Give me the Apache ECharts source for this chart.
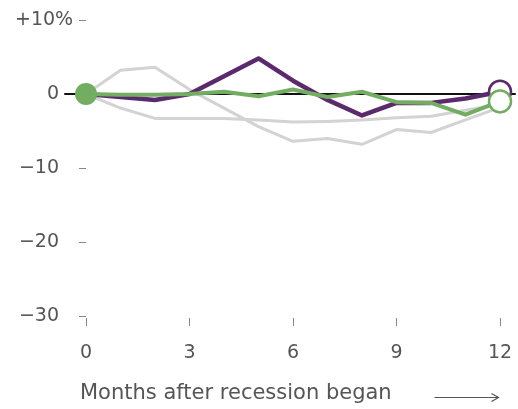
<!DOCTYPE html>
<html>
<head>
<meta charset="utf-8">
<style>
  html, body { margin: 0; padding: 0; background: #fff; }
  #chart { width: 518px; height: 409px; }
</style>
<script src="https://cdn.jsdelivr.net/npm/echarts@6/dist/echarts.min.js"></script>
</head>
<body>
<div id="chart"></div>
<script>
// months after the recession began
const months = [0, 1, 2, 3, 4, 5, 6, 7, 8, 9, 10, 11, 12];
const xTicks = [0, 3, 6, 9, 12];
const yTicks = [10, 0, -10, -20, -30];

// percent change since start
const grayA  = [0, 3.2, 3.6, 0.6, -1.9, -4.4, -6.4, -6.0, -6.8, -4.8, -5.2, -3.5, -1.8];
const grayB  = [0, -1.9, -3.3, -3.3, -3.3, -3.5, -3.8, -3.7, -3.5, -3.2, -3.0, -2.2, -1.4];
const purple = [0, -0.4, -0.8, 0, 2.4, 4.8, 1.8, -0.8, -2.9, -1.2, -1.2, -0.6, 0.3];
const green  = [0, -0.1, -0.1, 0, 0.3, -0.3, 0.6, -0.4, 0.3, -1.1, -1.2, -2.8, -1.0];

const FONT = 'DejaVu Sans';
const TXT = '#555';
const Y_MIN = -30, Y_MAX = 10;

const chart = echarts.init(document.getElementById('chart'));

const pairs = (vals) => months.map((m, i) => [m, vals[i]]);

// start / end dots
const withEnds = (vals, color, startDot) => pairs(vals).map((p, i) => {
  if (i === 0 && startDot) {
    return { value: p, symbol: 'circle', symbolSize: 22, itemStyle: { color: color, borderWidth: 0 } };
  }
  if (i === vals.length - 1) {
    return { value: p, symbol: 'circle', symbolSize: 22, itemStyle: { color: '#fff', borderColor: color, borderWidth: 2.5 } };
  }
  return { value: p, symbol: 'none' };
});

const lineSeries = (name, data, color, width, z) => ({
  name: name,
  type: 'line',
  data: data,
  z: z,
  symbol: 'none',
  lineStyle: { color: color, width: width, join: 'round', cap: 'round' },
  itemStyle: { color: color },
  emphasis: { disabled: true },
  silent: true
});

const option = {
  animation: false,
  grid: [
    { left: 86, right: 18, top: 20, bottom: 93 },
    // wider grid only for the zero line
    { left: 65, right: 3, top: 20, bottom: 93 }
  ],
  xAxis: [
    {
      type: 'value', min: 0, max: 12, interval: 3, position: 'bottom',
      axisLine: { show: false, onZero: false },
      axisTick: { show: true, length: 8, lineStyle: { color: '#888', width: 1 } },
      offset: 2,
      axisLabel: {
        margin: 26, color: TXT, fontFamily: FONT, fontSize: 19,
        formatter: (v) => xTicks.includes(v) ? String(v) : ''
      },
      splitLine: { show: false }
    },
    {
      gridIndex: 1, type: 'value', min: 0, max: 1,
      axisLine: { show: true, onZero: true, lineStyle: { color: '#111', width: 2 } },
      axisTick: { show: false }, axisLabel: { show: false }, splitLine: { show: false }
    }
  ],
  yAxis: [
    {
      type: 'value', min: Y_MIN, max: Y_MAX, interval: 10,
      axisLine: { show: false },
      axisTick: { show: true, length: 7, lineStyle: { color: '#888', width: 1 } },
      splitLine: { show: false },
      axisLabel: {
        margin: 27, color: TXT, fontFamily: FONT, fontSize: 19, align: 'right',
        formatter: (v) => {
          if (!yTicks.includes(v)) return '';
          if (v > 0) return '{top|+' + v + '%}';
          if (v < 0) return '\u2212' + Math.abs(v);
          return '0';
        },
        rich: { top: { width: 44, align: 'left', color: TXT, fontFamily: FONT, fontSize: 19 } }
      }
    },
    {
      gridIndex: 1, type: 'value', min: Y_MIN, max: Y_MAX, show: false
    }
  ],
  series: [
    lineSeries('a', pairs(grayA), '#d3d3d3', 3, 2),
    lineSeries('b', pairs(grayB), '#d3d3d3', 3, 2),
    lineSeries('purple', withEnds(purple, '#5b2a6c', false), '#5b2a6c', 4.5, 3),
    lineSeries('green', withEnds(green, '#72ad62', true), '#72ad62', 4, 4)
  ],
  graphic: [
    {
      type: 'text', left: 80, top: 383,
      style: { text: 'Months after recession began', fill: TXT, font: '21px "' + FONT + '"' }
    },
    {
      type: 'group', left: 432, top: 391,
      children: [
        { type: 'line', shape: { x1: 0, y1: 4, x2: 64, y2: 4 }, style: { stroke: TXT, lineWidth: 1.2 } },
        { type: 'polyline', shape: { points: [[57, 0], [64, 4], [57, 8]] }, style: { stroke: TXT, lineWidth: 1.2, fill: null } }
      ]
    }
  ]
};

chart.setOption(option);
</script>
</body>
</html>
